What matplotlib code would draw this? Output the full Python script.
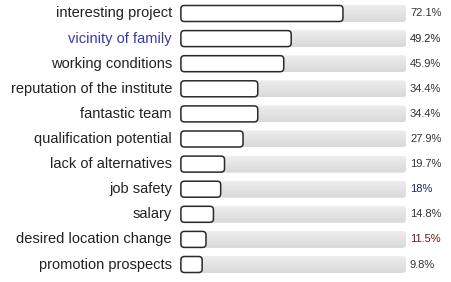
import numpy as np
import matplotlib
matplotlib.use('Agg')
import matplotlib.pyplot as plt
from matplotlib.patches import FancyBboxPatch

# answers, top to bottom
labels = [
    'interesting project', 'vicinity of family', 'working conditions',
    'reputation of the institute', 'fantastic team', 'qualification potential',
    'lack of alternatives', 'job safety', 'salary', 'desired location change',
    'promotion prospects',
]
shares = [72.1, 49.2, 45.9, 34.4, 34.4, 27.9, 19.7, 18.0, 14.8, 11.5, 9.8]
value_text = ['72.1%', '49.2%', '45.9%', '34.4%', '34.4%', '27.9%',
              '19.7%', '18%', '14.8%', '11.5%', '9.8%']
label_colors = ['#222222', '#3a3aa8'] + ['#222222'] * 9
value_colors = ['#333333', '#222222', '#333333', '#333333', '#333333', '#333333',
                '#333333', '#1a2a55', '#333333', '#6a1a1a', '#333333']

W, H = 452, 282
fig = plt.figure(figsize=(W / 100, H / 100), dpi=100)
fig.patch.set_facecolor('white')

# axes covers the track region horizontally, full height vertically
x0, x1 = 180, 406
ax = fig.add_axes([x0 / W, 0, (x1 - x0) / W, 1])
ax.set_xlim(0, 100)
row_px = 25.1
top_px = 13.5
n = len(labels)
# y in row units, row i centred at i
ax.set_ylim((H - top_px) / row_px, -top_px / row_px)
ax.axis('off')

px_x = 100 / (x1 - x0)
px_y = 1 / row_px
aspect = px_y / px_x
bar_h = 17 * px_y
rad = 3.5 * px_x

grad = np.linspace(0.93, 0.85, 64).reshape(-1, 1)

for i, (lab, v) in enumerate(zip(labels, shares)):
    y = i - bar_h / 2
    track = FancyBboxPatch((0, y), 100, bar_h,
                           boxstyle=f'round,pad=0,rounding_size={rad}',
                           mutation_aspect=aspect, facecolor='none',
                           edgecolor='none')
    ax.add_patch(track)
    im = ax.imshow(grad, cmap='gray', vmin=0, vmax=1, aspect='auto',
                   extent=(0, 100, y + bar_h, y), interpolation='bilinear',
                   zorder=1)
    im.set_clip_path(track)
    bar = FancyBboxPatch((0.4, y + 0.5 * px_y), v - 0.4, bar_h - 1.0 * px_y,
                         boxstyle=f'round,pad=0,rounding_size={rad}',
                         mutation_aspect=aspect, facecolor='white',
                         edgecolor='#2a2a2a', linewidth=1.1, zorder=2)
    ax.add_patch(bar)
    ax.text(-8 * px_x, i, lab, ha='right', va='center', fontsize=10.5,
            color=label_colors[i], family='Liberation Sans')
    ax.text(100 + 4 * px_x, i, value_text[i], ha='left', va='center',
            fontsize=8, color=value_colors[i], family='Liberation Sans')

fig.savefig('out.png', dpi=100)
